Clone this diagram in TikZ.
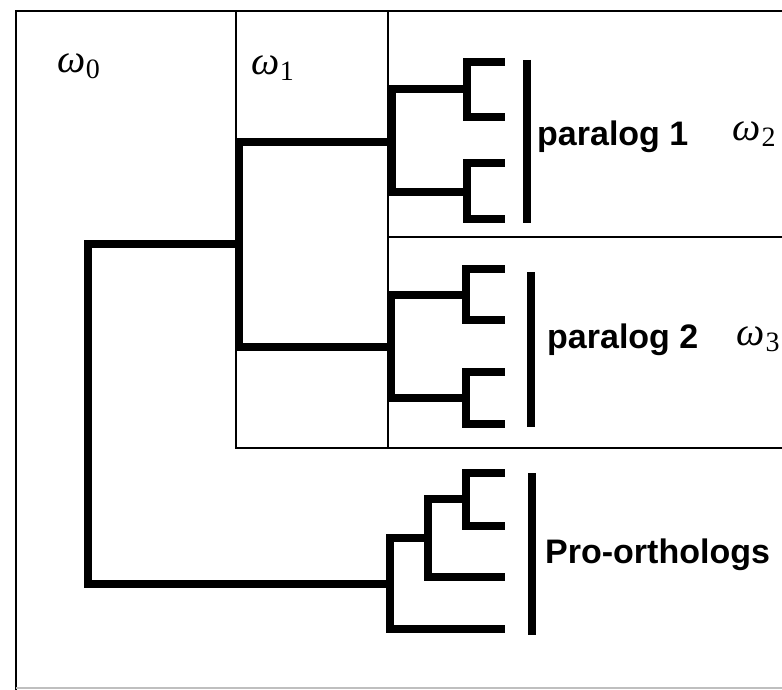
\documentclass[tikz,border=0pt]{standalone}
\usepackage{fontspec}
\setmainfont{Liberation Sans}
\newfontfamily\omfont{Liberation Serif}
\usepackage{tikz}
\usetikzlibrary{positioning}
\tikzstyle{branch}=[line width=8pt, line join=miter]
\tikzstyle{pane}=[line width=1.5pt]
\tikzstyle{grp}=[font=\fontsize{34}{40}\selectfont\bfseries, inner sep=0pt,
        anchor=base west]
\tikzstyle{om}=[font=\fontsize{40}{46}\selectfont\omfont, inner sep=0pt,
        anchor=base west]
\newcommand{\om}[1]{\textit{ω}\kern0.5pt\raisebox{-6pt}{\fontsize{28}{30}\selectfont #1}}

\begin{document}
\begin{tikzpicture}[x=1pt, y=-1pt]
        \useasboundingbox (0,0) rectangle (782,690);

        % panes
        \draw[pane] (782,11) -| (16,690);
        \draw[pane] (236,11) -- (236,448) -- (782,448);
        \draw[pane] (388,11) -- (388,448);
        \draw[pane] (388,237) -- (782,237);
        \draw[pane, black!25] (16,688) -- (782,688);

        % inner nodes
        \coordinate (root) at (88,414);
        \coordinate (n1) at (239,244);
        \coordinate (par1) at (392,142);
        \coordinate (par1a) at (467,89);
        \coordinate (par1b) at (467,192);
        \coordinate (par2) at (391,347);
        \coordinate (par2a) at (466,295);
        \coordinate (par2b) at (466,398);
        \coordinate (pro) at (390,584);
        \coordinate (proa) at (428,538);
        \coordinate (prob) at (466,499);

        % leaves
        \coordinate (l1) at (505,62);
        \coordinate (l2) at (505,117);
        \coordinate (l3) at (505,163);
        \coordinate (l4) at (505,219);
        \coordinate (l5) at (505,269);
        \coordinate (l6) at (505,320);
        \coordinate (l7) at (505,372);
        \coordinate (l8) at (505,424);
        \coordinate (l9) at (505,473);
        \coordinate (l10) at (505,526);
        \coordinate (l11) at (505,577);
        \coordinate (l12) at (505,629);

        \foreach \a/\b in {root/n1, root/pro, n1/par1, n1/par2,
                par1/par1a, par1/par1b, par1a/l1, par1a/l2, par1b/l3, par1b/l4,
                par2/par2a, par2/par2b, par2a/l5, par2a/l6, par2b/l7, par2b/l8,
                pro/proa, pro/l12, proa/prob, proa/l11, prob/l9, prob/l10}
            \draw[branch] (\a) |- (\b);

        % groups
        \draw[branch] (527,60) -- (527,223);
        \draw[branch] (531,272) -- (531,427);
        \draw[branch] (532,473) -- (532,635);

        \node[grp] (lbl1) at (537,146) {paralog 1};
        \node[grp] (lbl2) at (547,348) {paralog 2};
        \node[grp] (lbl3) at (545,563) {Pro-orthologs};

        \node[om] (w0) at (57,73) {\om{0}};
        \node[om] (w1) at (251,75) {\om{1}};
        \node[om, right=44pt of lbl1.base east, anchor=base west,
            yshift=5pt] (w2) {\om{2}};
        \node[om, right=38pt of lbl2.base east, anchor=base west,
            yshift=3pt] (w3) {\om{3}};
    \end{tikzpicture}
\end{document}
